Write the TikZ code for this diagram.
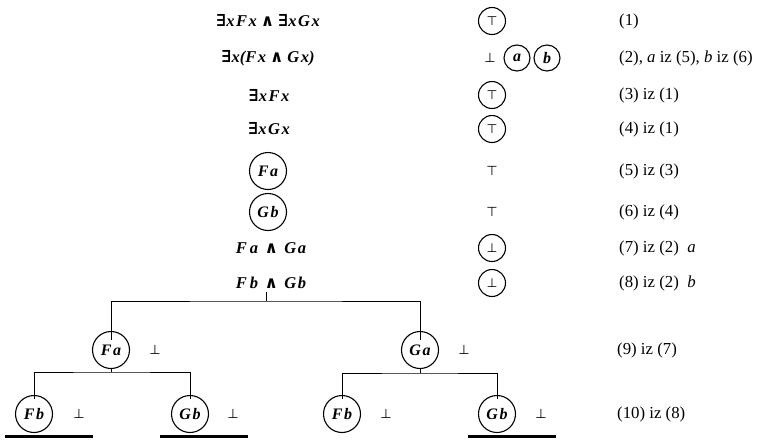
\documentclass[tikz,border=0pt]{standalone}
\usepackage{fontspec}
\setmainfont{Liberation Serif}
\newfontfamily\symf{DejaVu Sans}
\newfontfamily\symserif{DejaVu Serif}
\newcommand{\Ex}{{\symserif\bfseries ∃}}
\newcommand{\Wedge}{\hspace{4pt}{\symserif ∧}\hspace{4pt}}
\newcommand{\WWedge}{\hspace{6.5pt}{\symserif ∧}\hspace{6.5pt}}
\newcommand{\kk}{\kern1.5pt}
\newcommand{\kw}{\kern3pt}
\begin{document}
\begin{tikzpicture}[x=1pt,y=-1pt,
  formula/.style={font=\fontsize{16.5}{18}\selectfont\bfseries\itshape, inner sep=0pt},
  note/.style={font=\fontsize{16.8}{18}\selectfont, anchor=west, inner sep=0pt},
  small/.style={circle, draw, line width=1.1pt, minimum size=27pt, inner sep=0pt, font=\fontsize{12.5}{13}\selectfont\symf},
  bare/.style={inner sep=0pt, font=\fontsize{13}{14}\selectfont\symf},
  smallv/.style={circle, draw, line width=1.1pt, minimum size=26pt, inner sep=0pt, font=\fontsize{16}{18}\selectfont\bfseries\itshape},
  big/.style={circle, draw, line width=1.1pt, minimum size=37pt, inner sep=0pt, font=\fontsize{16}{18}\selectfont\bfseries\itshape},
  branch/.style={line width=1pt},
  closed/.style={line width=3pt}]
\useasboundingbox (0,0) rectangle (763,445);
% left column
\node[formula] (f1) at (268,21) {\Ex{}x\kk F\kk x\Wedge\Ex{}x\kk G\kk x};
\node[formula] (f2) at (268,58) {\Ex{}x(F\kk x\Wedge G\kk x)};
\node[formula] (f3) at (269,95) {\Ex{}x\kk F\kk x};
\node[formula] (f4) at (269,129) {\Ex{}x\kk G\kk x};
\node[big] (f5) at (268,171) {F\kk a};
\node[big] (f6) at (268,212) {G\kk b};
\node[formula] (f7) at (271,248) {F\kw a\WWedge G\kk a};
\node[formula] (f8) at (271,283) {F\kw b\WWedge G\kk b};
% middle column
\node[small] (v1) at (492,21) {⊤};
\node[bare] (v2) at (490,58) {⊥};
\node[smallv] (va) at (517,58) {a};
\node[smallv] (vb) at (547,58) {b};
\node[small] (v3) at (492,95) {⊤};
\node[small] (v4) at (492,129) {⊤};
\node[bare] (v5) at (492,171) {⊤};
\node[bare] (v6) at (492,212) {⊤};
\node[small] (v7) at (492,248) {⊥};
\node[small] (v8) at (492,283) {⊥};
% right column
\node[note] (n1) at (619,21) {(1)};
\node[note] (n2) at (619,58) {(2), \textit{a} iz (5), \textit{b} iz (6)};
\node[note] (n3) at (619,95) {(3) iz (1)};
\node[note] (n4) at (619,129) {(4) iz (1)};
\node[note] (n5) at (619,171) {(5) iz (3)};
\node[note] (n6) at (619,212) {(6) iz (4)};
\node[note] (n7) at (619,248) {(7) iz (2) \ \textit{a}};
\node[note] (n8) at (619,283) {(8) iz (2) \ \textit{b}};
\node[note] (n9) at (617,350) {(9) iz (7)};
\node[note] (n10) at (617,414) {(10) iz (8)};
% tree
\node[big] (fa) at (111,350) {F\kk a};
\node[bare] (bfa) at (155,350) {⊥};
\node[big] (ga) at (420,350) {G\kk a};
\node[bare] (bga) at (464,350) {⊥};
\node[big] (fb1) at (34,414) {F\kk b};
\node[bare] (bfb1) at (79,414) {⊥};
\node[big] (gb1) at (190,414) {G\kk b};
\node[bare] (bgb1) at (233,414) {⊥};
\node[big] (fb2) at (342,414) {F\kk b};
\node[bare] (bfb2) at (386,414) {⊥};
\node[big] (gb2) at (497,414) {G\kk b};
\node[bare] (bgb2) at (541,414) {⊥};
\coordinate (s0) at (266,301);
\coordinate (s1) at (111,372);
\coordinate (s2) at (420,373);
\draw[branch] (f8.south) ++(-5,3) -- (s0);
\draw[branch] ([yshift=-9pt]fa.north) |- (s0) -| ([yshift=-9pt]ga.north);
\draw[branch] (fa.south) -- (s1);
\draw[branch] ([yshift=-4pt]fb1.north) |- (s1) -| ([yshift=-4pt]gb1.north);
\draw[branch] (ga.south) -- (s2);
\draw[branch] ([yshift=-4pt]fb2.north) |- (s2) -| ([yshift=-4pt]gb2.north);
% closing bars
\coordinate (c1a) at (5,436); \coordinate (c1b) at (93,436);
\coordinate (c2a) at (160,436); \coordinate (c2b) at (248,436);
\coordinate (c3a) at (468,436); \coordinate (c3b) at (556,436);
\draw[closed] (c1a) -- (c1b);
\draw[closed] (c2a) -- (c2b);
\draw[closed] (c3a) -- (c3b);
\end{tikzpicture}
\end{document}
